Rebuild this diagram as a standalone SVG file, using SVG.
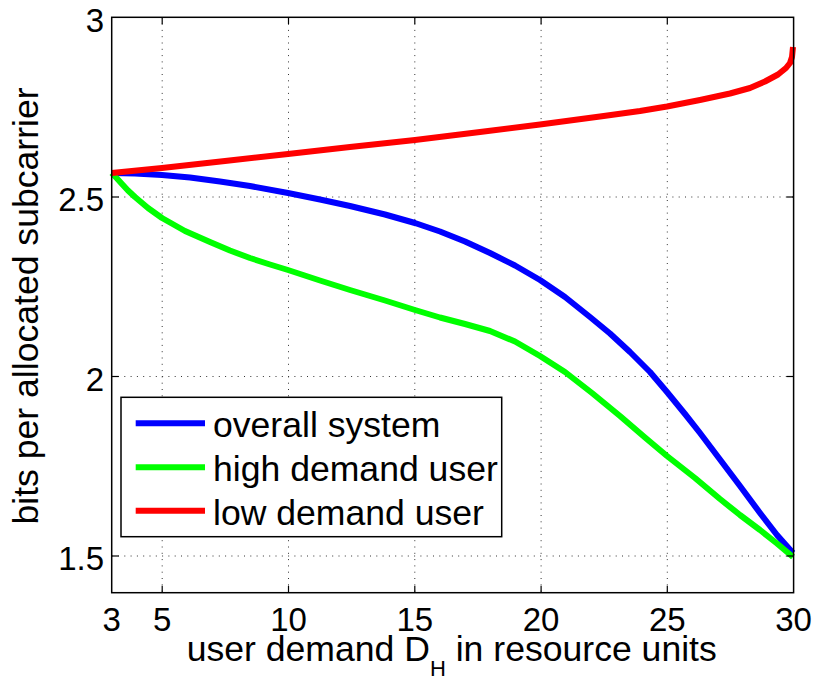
<svg xmlns="http://www.w3.org/2000/svg" width="815" height="680" viewBox="0 0 815 680">
  <style>
    .grid { stroke: #333; stroke-width: 1; stroke-dasharray: 1 5.3; fill: none; }
    .axis { stroke: #000; stroke-width: 1.5; fill: none; }
    .tick { stroke: #000; stroke-width: 1.2; }
    .curve { fill: none; stroke-width: 6; stroke-linejoin: round; stroke-linecap: butt; }
    .lbl { font-family: "Liberation Sans", Arial, sans-serif; fill: #000; }
    .tk { font-size: 33px; }
    .big { font-size: 35.6px; }
  </style>
  <rect width="815" height="680" fill="#fff"/>

  <!-- grid -->
  <g id="grid">
    <line class="grid" x1="162.2" y1="17.3" x2="162.2" y2="592.7"/>
    <line class="grid" x1="288.5" y1="17.3" x2="288.5" y2="592.7"/>
    <line class="grid" x1="414.8" y1="17.3" x2="414.8" y2="592.7"/>
    <line class="grid" x1="541.1" y1="17.3" x2="541.1" y2="592.7"/>
    <line class="grid" x1="667.3" y1="17.3" x2="667.3" y2="592.7"/>
    <line class="grid" x1="111.7" y1="197" x2="793.6" y2="197"/>
    <line class="grid" x1="111.7" y1="376.5" x2="793.6" y2="376.5"/>
    <line class="grid" x1="111.7" y1="556" x2="793.6" y2="556"/>
  </g>

  <!-- data series -->
  <g id="series">
    <polyline id="overall" class="curve" stroke="#0000ff" points="111.7,173 135,173.6 162,175 190,177.5 220,181.5 250,186 288,193 320,199.5 350,206 385,214.5 415,223 440,231.5 465,241.5 490,253 515,265.5 540,280 565,297 590,317 610,333.5 630,352 650,372 667,392 685,414 700,433 720,459.5 740,486 760,513 777,535 793,553"/>
    <polyline id="high" class="curve" stroke="#00ff00" points="111.7,173 117,178.5 122,184 128,190.5 135,197 148,208 162,218 185,231 210,242 230,250.5 250,258 270,264.5 288,270 320,280.5 350,290 385,300.5 415,310 440,317.5 465,324 490,331 515,341.5 540,356 565,372 592,393 620,416 645,437.5 667,456 695,478 720,499 740,515 760,530 777,543.5 793,557"/>
    <polyline id="low" class="curve" stroke="#ff0000" points="111.7,173 162,168 225,161 288,154 350,147 415,140 480,132 540,124.5 600,116.5 640,111 667,106.5 700,100 730,93.5 750,88 765,81.5 778,74.5 786,68 790,63 792,57 793,47"/>
  </g>

  <!-- axes box and ticks -->
  <g id="axes">
    <rect class="axis" x="111.7" y="17.3" width="681.9" height="575.4"/>
    <g class="tick">
      <line x1="162.2" y1="592.7" x2="162.2" y2="585.7"/>
      <line x1="288.5" y1="592.7" x2="288.5" y2="585.7"/>
      <line x1="414.8" y1="592.7" x2="414.8" y2="585.7"/>
      <line x1="541.1" y1="592.7" x2="541.1" y2="585.7"/>
      <line x1="667.3" y1="592.7" x2="667.3" y2="585.7"/>
      <line x1="162.2" y1="17.3" x2="162.2" y2="24.3"/>
      <line x1="288.5" y1="17.3" x2="288.5" y2="24.3"/>
      <line x1="414.8" y1="17.3" x2="414.8" y2="24.3"/>
      <line x1="541.1" y1="17.3" x2="541.1" y2="24.3"/>
      <line x1="667.3" y1="17.3" x2="667.3" y2="24.3"/>
      <line x1="111.7" y1="197" x2="118.7" y2="197"/>
      <line x1="111.7" y1="376.5" x2="118.7" y2="376.5"/>
      <line x1="111.7" y1="556" x2="118.7" y2="556"/>
      <line x1="793.6" y1="197" x2="786.6" y2="197"/>
      <line x1="793.6" y1="376.5" x2="786.6" y2="376.5"/>
      <line x1="793.6" y1="556" x2="786.6" y2="556"/>
    </g>
  </g>

  <!-- tick labels -->
  <g id="xticklabels" class="lbl tk" text-anchor="middle">
    <text x="111.7" y="631">3</text>
    <text x="162.2" y="631">5</text>
    <text x="288.5" y="631">10</text>
    <text x="414.8" y="631">15</text>
    <text x="541.1" y="631">20</text>
    <text x="667.3" y="631">25</text>
    <text x="793.6" y="631">30</text>
  </g>
  <g id="yticklabels" class="lbl tk" text-anchor="end">
    <text x="104" y="31.5">3</text>
    <text x="104" y="211">2.5</text>
    <text x="104" y="390.5">2</text>
    <text x="104" y="570">1.5</text>
  </g>

  <!-- axis titles -->
  <g id="xlabel" class="lbl big">
    <text x="186.7" y="660.5">user demand D<tspan font-size="22px" dy="15">H</tspan><tspan dy="-15"> in resource units</tspan></text>
  </g>
  <g id="ylabel" class="lbl big">
    <text transform="translate(38,306) rotate(-90)" text-anchor="middle">bits per allocated subcarrier</text>
  </g>

  <!-- legend -->
  <g id="legend">
    <rect x="121" y="397.3" width="380.7" height="139.4" fill="#fff" stroke="#000" stroke-width="1.5"/>
    <line x1="135.7" y1="423.3" x2="205" y2="423.3" stroke="#0000ff" stroke-width="6"/>
    <line x1="135.7" y1="467.3" x2="205" y2="467.3" stroke="#00ff00" stroke-width="6"/>
    <line x1="135.7" y1="510.7" x2="205" y2="510.7" stroke="#ff0000" stroke-width="6"/>
    <g class="lbl big">
      <text x="213" y="437">overall system</text>
      <text x="213" y="481">high demand user</text>
      <text x="213" y="524.7">low demand user</text>
    </g>
  </g>
</svg>
